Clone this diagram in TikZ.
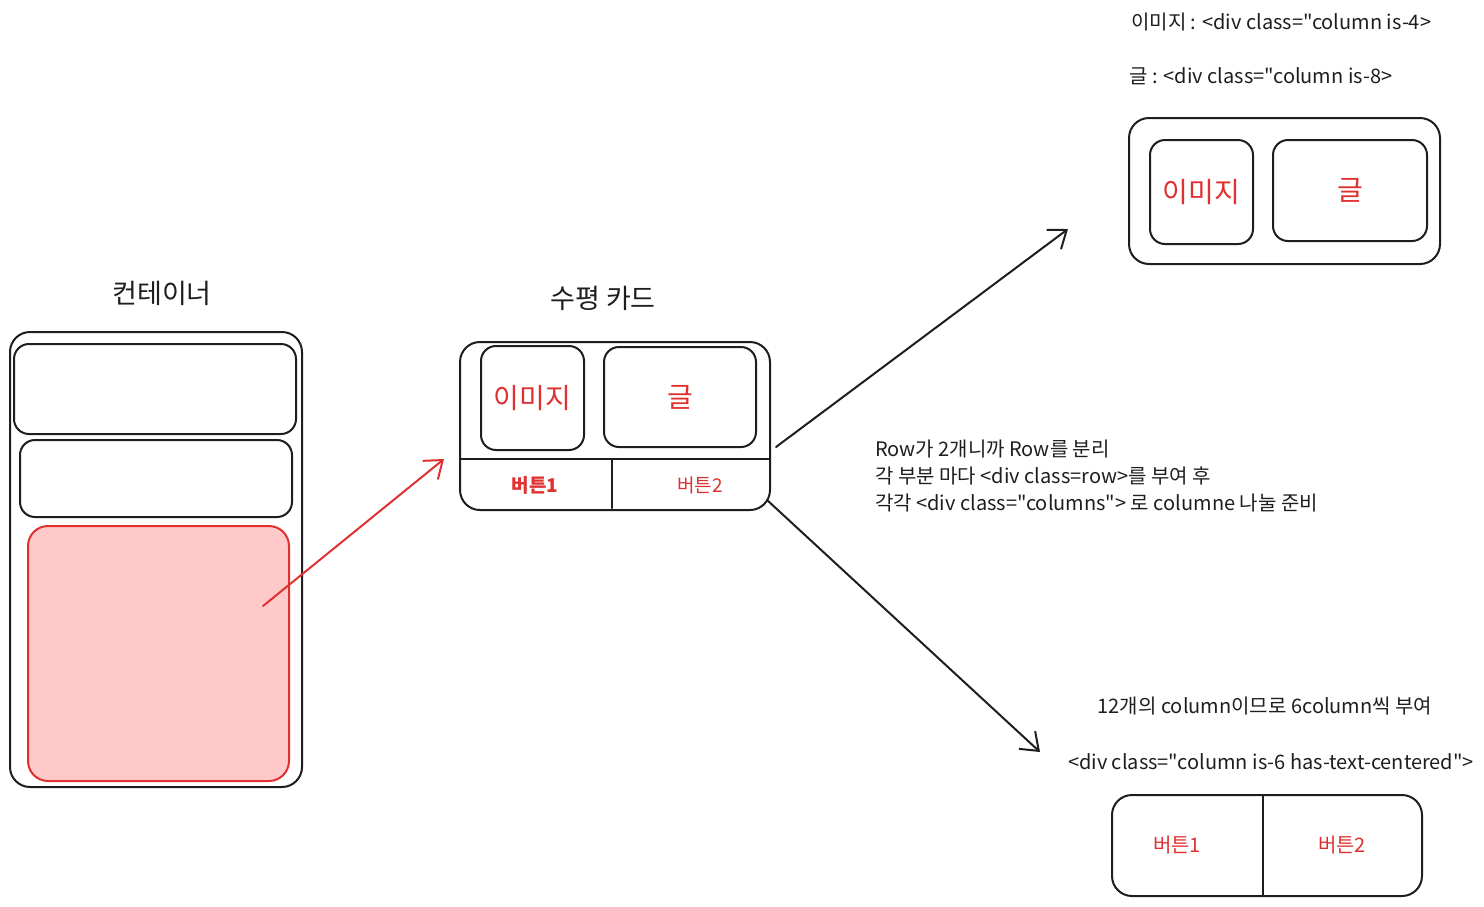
\documentclass[tikz,border=0pt]{standalone}
\usepackage{fontspec}
\setmainfont{Noto Sans CJK KR}[Ligatures=TeXOff]
\usetikzlibrary{arrows.meta}
\definecolor{inkc}{HTML}{1E1E1E}
\definecolor{redc}{HTML}{E03131}
\definecolor{pinkc}{HTML}{FFC9C9}
\tikzset{
  x=1pt,
  y=-1pt,
  >={Straight Barb[length=16pt,width=24pt]},
  % styles
  ink/.style={
    draw=inkc,
    line width=2pt,
    line cap=round,
  },
  box/.style={
    ink,
    rounded corners=15pt,
    inner sep=0pt,
    text=redc,
    font=\fontsize{28}{32}\selectfont,
  },
  outer/.style={
    box,
    rounded corners=20pt,
  },
  redbox/.style={
    draw=redc,
    fill=pinkc,
    line width=2pt,
    rounded corners=20pt,
    inner sep=0pt,
  },
  title/.style={
    text=inkc,
    inner sep=0pt,
    font=\fontsize{27}{32}\selectfont,
  },
  note/.style={
    text=inkc,
    inner sep=0pt,
    font=\fontsize{20}{24}\selectfont,
  },
  btn/.style={
    text=redc,
    inner sep=0pt,
    font=\fontsize{20}{24}\selectfont,
  },
}

\begin{document}
\begin{tikzpicture}
  \useasboundingbox (0,0) rectangle (1484,906);

  % container
  \node [outer, minimum width=292pt, minimum height=455pt] (cont) at (156,559.5) {};
  \node [box, minimum width=282pt, minimum height=90pt]   (row1) at (155,389)   {};
  \node [box, minimum width=272pt, minimum height=77pt]   (row2) at (156,478.5) {};
  \node [redbox, minimum width=261pt, minimum height=255pt] (sel) at (158.5,653.5) {};
  \node [title] (conttitle) at (162,293) {컨테이너};

  % horizontal card
  \node [outer, minimum width=310pt, minimum height=168pt] (card) at (615,426) {};
  \node [box, minimum width=103pt, minimum height=104pt] (img) at (532.5,398) {이미지};
  \node [box, minimum width=152pt, minimum height=100pt] (txt) at (680,397)   {글};
  \draw [ink] (460,459) -- (770,459);
  \draw [ink] (612,459) -- (612,508);
  \node [btn, font=\fontsize{19}{24}\selectfont\bfseries] (btn1) at (535,485) {버튼1};
  \node [btn, font=\fontsize{19}{24}\selectfont] (btn2) at (700,485) {버튼2};
  \node [title] (cardtitle) at (603,298) {수평 카드};

  % column card
  \node [outer, minimum width=311pt, minimum height=146pt] (colcard) at (1284.5,191) {};
  \node [box, minimum width=103pt, minimum height=104pt] (colimg) at (1201.5,192)   {이미지};
  \node [box, minimum width=154pt, minimum height=101pt] (coltxt) at (1350,190.5)   {글};
  \node [note, anchor=west] (imgnote) at (1131,22) {이미지 : <div class="column is-4>};
  \node [note, anchor=west] (txtnote) at (1129,76) {글 : <div class="column is-8>};

  % row notes
  \node [note, anchor=west] (row1note) at (875,449) {Row가 2개니까 Row를 분리};
  \node [note, anchor=west] (row2note) at (875,476) {각 부분 마다 <div class=row>를 부여 후};
  \node [note, anchor=west] (row3note) at (875,503) {각각 <div class="columns"> 로 columne 나눌 준비};

  % button row
  \node [note] (sixnote) at (1265,706) {12개의 column이므로 6column씩 부여};
  \node [note] (divnote) at (1271,762) {<div class="column is-6 has-text-centered">};
  \node [outer, minimum width=310pt, minimum height=101pt] (btnrow) at (1267,845.5) {};
  \draw [ink] (1263,795) -- (1263,896);
  \node [btn] (rbtn1) at (1177,845) {버튼1};
  \node [btn] (rbtn2) at (1342,845) {버튼2};

  % arrows
  \coordinate (selpick) at (263,606);
  \coordinate (cardin)  at (444,459);
  \coordinate (cardup)  at (776,447);
  \coordinate (colin)   at (1068,229);
  \coordinate (carddn)  at (767,500);
  \coordinate (btnin)   at (1040,752);
  \draw [->, draw=redc, line width=2pt, line cap=round] (selpick) -- (cardin);
  \draw [->, ink] (cardup) -- (colin);
  \draw [->, ink] (carddn) -- (btnin);
\end{tikzpicture}
\end{document}
